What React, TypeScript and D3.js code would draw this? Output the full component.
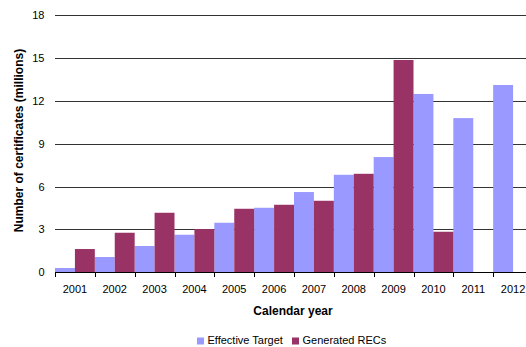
import React from "react";
import * as d3 from "d3";

const years = ["2001", "2002", "2003", "2004", "2005", "2006", "2007", "2008", "2009", "2010", "2011", "2012"];
const effectiveTarget = [0.3, 1.07, 1.84, 2.63, 3.47, 4.52, 5.62, 6.83, 8.07, 12.49, 10.8, 13.12];
const generatedRECs = [1.63, 2.77, 4.17, 3.03, 4.45, 4.73, 5.01, 6.9, 14.87, 2.84, 0, 0];
const yTicks = [0, 3, 6, 9, 12, 15, 18];
const seriesNames = ["Effective Target", "Generated RECs"];
const seriesColors = ["#9999FF", "#993366"];

const W = 526;
const H = 347;
const FONT = "'Liberation Sans', Arial, Helvetica, sans-serif";

export default function App() {
  const plotLeft = 55;
  const plotRight = 533;
  const plotTop = 15.3;
  const plotBottom = 272.3;

  const x = d3.scaleBand<string>().domain(years).range([plotLeft, plotRight]).padding(0);
  const sub = d3.scaleBand<number>().domain([0, 1]).range([0, x.bandwidth()]).padding(0);
  const y = d3.scaleLinear().domain([0, 18]).range([plotBottom, plotTop]);

  const series = [effectiveTarget, generatedRECs];
  const boundaries = years.map((yr) => x(yr) as number).concat([plotRight]);

  return (
    <svg
      width={W}
      height={H}
      style={{ position: "absolute", left: 0, top: 0, background: "#fff", overflow: "hidden" }}
      fontFamily={FONT}
    >
      {/* gridlines */}
      {yTicks.slice(1).map((t) => (
        <line
          key={t}
          x1={plotLeft}
          x2={plotRight}
          y1={Math.round(y(t)) + 0.5}
          y2={Math.round(y(t)) + 0.5}
          stroke="#333"
          strokeWidth={1}
        />
      ))}

      {/* bars */}
      {series.map((vals, si) =>
        vals.map((v, i) =>
          v > 0 ? (
            <rect
              key={`${si}-${i}`}
              x={(x(years[i]) as number) + (sub(si) as number)}
              y={y(v)}
              width={sub.bandwidth()}
              height={y(0) - y(v)}
              fill={seriesColors[si]}
            />
          ) : null
        )
      )}

      {/* x axis */}
      <line
        x1={plotLeft}
        x2={plotRight}
        y1={Math.round(y(0)) + 0.5}
        y2={Math.round(y(0)) + 0.5}
        stroke="#000"
      />
      {boundaries.map((bx, i) => (
        <line
          key={i}
          x1={Math.round(bx) + 0.5}
          x2={Math.round(bx) + 0.5}
          y1={Math.round(y(0))}
          y2={Math.round(y(0)) + 5}
          stroke="#000"
        />
      ))}
      {years.map((yr) => (
        <text
          key={yr}
          x={(x(yr) as number) + x.bandwidth() / 2}
          y={293}
          fontSize={11}
          textAnchor="middle"
          fill="#000"
        >
          {yr}
        </text>
      ))}

      {/* y tick labels */}
      {yTicks.map((t) => (
        <text key={t} x={44.5} y={y(t) + 4} fontSize={11} textAnchor="end" fill="#000">
          {t}
        </text>
      ))}

      {/* axis titles */}
      <text x={293} y={315} fontSize={12} fontWeight="bold" textAnchor="middle" fill="#000">
        Calendar year
      </text>
      <text
        transform={`translate(23,${140.5}) rotate(-90)`}
        fontSize={12}
        fontWeight="bold"
        textAnchor="middle"
        fill="#000"
      >
        Number of certificates (millions)
      </text>

      {/* legend */}
      <g>
        <rect x={197} y={337.5} width={7} height={7} fill={seriesColors[0]} />
        <text x={207.5} y={344} fontSize={11} fill="#000">
          {seriesNames[0]}
        </text>
        <rect x={292} y={337.5} width={7} height={7} fill={seriesColors[1]} />
        <text x={302.5} y={344} fontSize={11} fill="#000">
          {seriesNames[1]}
        </text>
      </g>
    </svg>
  );
}
